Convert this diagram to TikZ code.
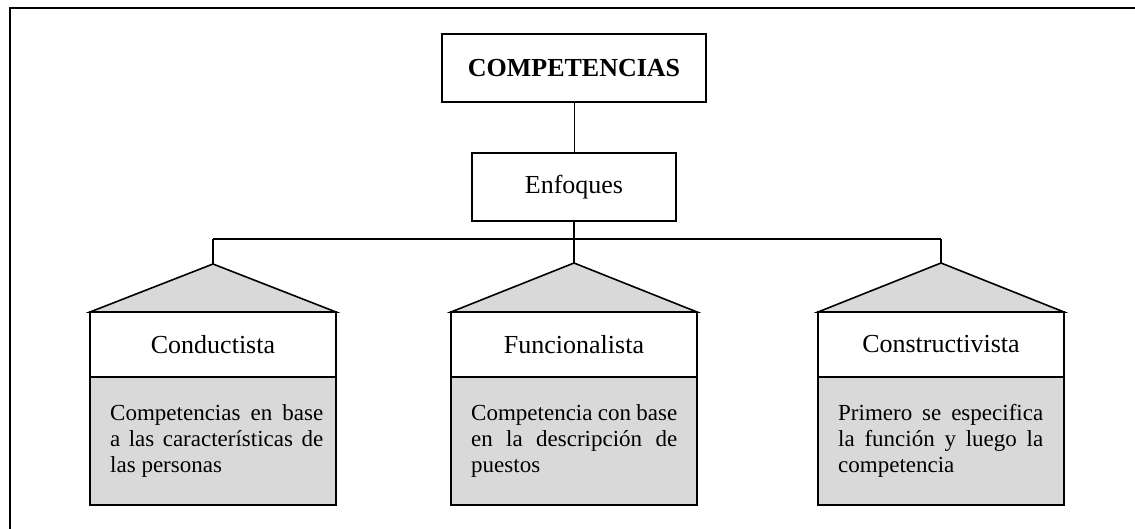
\documentclass[tikz,border=0pt]{standalone}
\usepackage{fontspec}
\setmainfont{Liberation Serif}
\newcommand{\jline}[2]{\makebox[#1][s]{#2}}
\begin{document}
\begin{tikzpicture}[x=1pt,y=-1pt,
  boxa/.style={draw=black,line width=1.6pt,fill=white,inner sep=0pt,outer sep=0pt,font=\fontsize{26}{30}\selectfont},
  headbox/.style={draw=black,line width=1.6pt,fill=white,inner sep=0pt,outer sep=0pt,minimum width=246pt,minimum height=65pt,font=\fontsize{26}{30}\selectfont},
  bodybox/.style={draw=black,line width=1.6pt,fill=gray!30,inner sep=0pt,outer sep=0pt,minimum width=246pt,minimum height=128pt},
  bodytext/.style={anchor=north west,inner sep=0pt,align=left,font=\fontsize{23}{26}\selectfont},
  roof/.style={draw=black,line width=1.6pt,fill=gray!30,line join=miter},
  conn/.style={draw=black,line width=1.6pt},
  thin/.style={draw=black,line width=0.9pt}]
\useasboundingbox (0,0) rectangle (1135,529);
% outer frame (top and left edges visible)
\draw[line width=2.5pt] (10,529) -- (10,8) -- (1135,8);

\node[boxa,minimum width=264pt,minimum height=68pt] (comp) at (574,68) {\textbf{COMPETENCIAS}};
\node[boxa,minimum width=204pt,minimum height=68pt] (enf) at (574,187) {Enfoques};
\draw[thin] (comp.south) -- (enf.north);

% tree bar
\coordinate (barL) at (213,239);
\coordinate (barM) at (574,239);
\coordinate (barR) at (941,239);
\coordinate (apexL) at (213,264);
\coordinate (apexM) at (574,263);
\coordinate (apexR) at (941,263);

% houses
\node[headbox] (h1) at (213,344.5) {Conductista};
\node[headbox] (h2) at (574,344.5) {Funcionalista};
\node[headbox] (h3) at (941,344.5) {Constructivista};
\node[bodybox,anchor=north] (b1) at (h1.south) {};
\node[bodybox,anchor=north] (b2) at (h2.south) {};
\node[bodybox,anchor=north] (b3) at (h3.south) {};

\path[roof] (h1.north west) -- (apexL) -- (h1.north east) -- cycle;
\path[roof] (h2.north west) -- (apexM) -- (h2.north east) -- cycle;
\path[roof] (h3.north west) -- (apexR) -- (h3.north east) -- cycle;

\draw[conn] (enf.south) -- (barM);
\draw[conn] (barL) -- (barR);
\draw[conn] (barL) -- (apexL);
\draw[conn] (barM) -- (apexM);
\draw[conn] (barR) -- (apexR);

\node[bodytext] (t1) at ([xshift=20pt,yshift=-27pt]b1.north west) {\jline{213pt}{Competencias en base}\\\jline{213pt}{a las características de}\\las personas};
\node[bodytext] (t2) at ([xshift=20pt,yshift=-27pt]b2.north west) {\jline{206pt}{Competencia con base}\\\jline{206pt}{en la descripción de}\\puestos};
\node[bodytext] (t3) at ([xshift=20pt,yshift=-27pt]b3.north west) {\jline{205pt}{Primero se especifica}\\\jline{205pt}{la función y luego la}\\competencia};
\end{tikzpicture}
\end{document}
